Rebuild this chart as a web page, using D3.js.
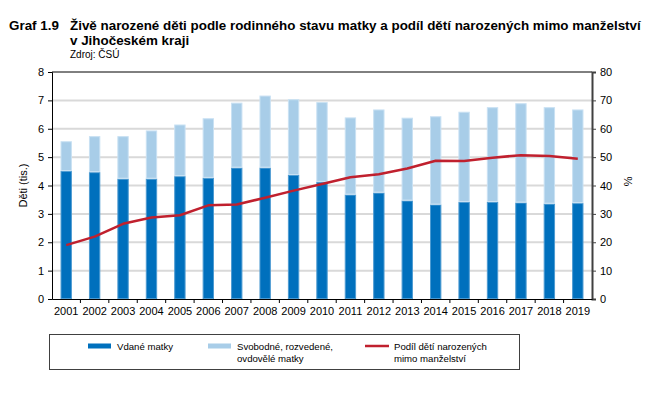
<!DOCTYPE html>
<html>
<head>
<meta charset="utf-8">
<script src="https://cdn.jsdelivr.net/npm/d3@7"></script>
<style>
  body { margin: 0; background: #fff; }
  text { font-family: "Liberation Sans", Arial, sans-serif; }
</style>
</head>
<body>
<div id="chart"></div>
<script>
// data
const years = ["2001","2002","2003","2004","2005","2006","2007","2008","2009","2010",
  "2011","2012","2013","2014","2015","2016","2017","2018","2019"];
// vdané matky (tis.)
const married = [4.51,4.47,4.24,4.24,4.33,4.27,4.63,4.63,4.37,4.13,
  3.68,3.75,3.47,3.33,3.42,3.42,3.40,3.36,3.38];
// svobodné, rozvedené, ovdovělé matky (tis.)
const unmarried = [1.05,1.27,1.50,1.70,1.82,2.10,2.29,2.54,2.67,2.81,
  2.72,2.93,2.92,3.11,3.18,3.34,3.50,3.40,3.30];
// podíl dětí narozených mimo manželství (%)
const share = [19.0,22.0,26.5,28.7,29.5,33.0,33.3,35.7,38.2,40.5,
  42.9,44.0,46.0,48.7,48.6,49.8,50.7,50.4,49.4];
const leftTicks = [0,1,2,3,4,5,6,7,8];
const rightTicks = [0,10,20,30,40,50,60,70,80];

const W = 655, H = 393;
const m = {left: 52, right: 63, top: 72, bottom: 94};
const iw = W - m.left - m.right, ih = H - m.top - m.bottom;

const svg = d3.select("#chart").append("svg")
  .attr("width", W).attr("height", H);

// nadpis
svg.append("text").attr("x", 9).attr("y", 30)
  .attr("font-size", "13.4px").attr("font-weight", "bold").attr("fill", "#000")
  .text("Graf 1.9");
svg.append("text").attr("x", 70).attr("y", 30)
  .attr("font-size", "13.4px").attr("font-weight", "bold").attr("fill", "#000")
  .text("Živě narozené děti podle rodinného stavu matky a podíl dětí narozených mimo manželství");
svg.append("text").attr("x", 70).attr("y", 45)
  .attr("font-size", "13.4px").attr("font-weight", "bold").attr("fill", "#000")
  .text("v Jihočeském kraji");
svg.append("text").attr("x", 70).attr("y", 58)
  .attr("font-size", "10px").attr("fill", "#000")
  .text("Zdroj: ČSÚ");

const g = svg.append("g").attr("transform", `translate(${m.left},${m.top})`);

const x = d3.scaleBand().domain(years).range([0, iw]).paddingInner(0.6).paddingOuter(0.3);
const y = d3.scaleLinear().domain([0, 8]).range([ih, 0]);
const y2 = d3.scaleLinear().domain([0, 80]).range([ih, 0]);

// mřížka
g.append("g").selectAll("line")
  .data(leftTicks.filter(d => d > 0 && d < 8))
  .enter().append("line")
  .attr("x1", 0).attr("x2", iw)
  .attr("y1", d => y(d)).attr("y2", d => y(d))
  .attr("stroke", "#d9d9d9").attr("stroke-width", 2);

// horní linka
g.append("line").attr("x1", 0).attr("x2", iw).attr("y1", 0).attr("y2", 0)
  .attr("stroke", "#000").attr("stroke-width", 1);

// sloupce
const rows = years.map((yr, i) => ({year: yr, a: married[i], b: unmarried[i]}));
const stack = d3.stack().keys(["a", "b"])(rows);
const fills = ["#0070bd", "#a8cde8"];
const strokes = ["#4d9bd2", "#c9e1f3"];
g.append("g").selectAll("g")
  .data(stack).enter().append("g")
  .attr("fill", (d, i) => fills[i])
  .attr("stroke", (d, i) => strokes[i])
  .attr("stroke-width", 1)
  .selectAll("rect")
  .data(d => d).enter().append("rect")
  .attr("x", d => x(d.data.year) + 0.5)
  .attr("width", x.bandwidth() - 1)
  .attr("y", d => y(d[1]) + 0.5)
  .attr("height", d => Math.max(0, y(d[0]) - y(d[1]) - 1));

// linka podílu
const line = d3.line()
  .x((d, i) => x(years[i]) + x.bandwidth() / 2)
  .y(d => y2(d));
g.append("path").datum(share)
  .attr("d", line)
  .attr("fill", "none")
  .attr("stroke", "#c0202e")
  .attr("stroke-width", 2.5)
  .attr("stroke-linejoin", "round");

// osy
const axL = g.append("g")
  .call(d3.axisLeft(y).tickValues(leftTicks).tickSize(4).tickPadding(4));
axL.select(".domain").attr("stroke", "#000");
axL.selectAll(".tick line").attr("stroke", "#000");
axL.selectAll("text").attr("font-size", "11px").attr("fill", "#000");

const axR = g.append("g").attr("transform", `translate(${iw},0)`)
  .call(d3.axisRight(y2).tickValues(rightTicks).tickSize(4).tickPadding(4));
axR.select(".domain").attr("stroke", "#404040").attr("stroke-width", 2);
axR.selectAll(".tick line").attr("stroke", "#404040");
axR.selectAll("text").attr("font-size", "11px").attr("fill", "#000");

const axB = g.append("g").attr("transform", `translate(0,${ih})`)
  .call(d3.axisBottom(x).tickSize(0).tickPadding(8));
axB.select(".domain").attr("stroke", "#000");
axB.selectAll("text").attr("font-size", "11px").attr("fill", "#000");
// značky mezi kategoriemi
axB.append("g").selectAll("line")
  .data(years.slice(1)).enter().append("line")
  .attr("x1", d => x(d) - x.step() * x.paddingInner() / 2)
  .attr("x2", d => x(d) - x.step() * x.paddingInner() / 2)
  .attr("y1", 0).attr("y2", 4)
  .attr("stroke", "#000");

// popisky os
svg.append("text")
  .attr("transform", `translate(27,${m.top + ih / 2}) rotate(-90)`)
  .attr("text-anchor", "middle").attr("font-size", "11px").attr("fill", "#000")
  .text("Děti (tis.)");
svg.append("text")
  .attr("transform", `translate(624,${m.top + ih / 2 - 4}) rotate(90)`)
  .attr("text-anchor", "middle").attr("font-size", "11px").attr("fill", "#000")
  .text("%");

// legenda
const lg = svg.append("g").attr("transform", "translate(49,334)");
lg.append("rect").attr("x", 0.5).attr("y", 0.5).attr("width", 470).attr("height", 35)
  .attr("fill", "#fff").attr("stroke", "#404040").attr("stroke-width", 1);
const items = [
  {x: 39, lines: ["Vdané matky"], type: "bar", color: fills[0]},
  {x: 159, lines: ["Svobodné, rozvedené,", "ovdovělé matky"], type: "bar", color: fills[1]},
  {x: 316, lines: ["Podíl dětí narozených", "mimo manželství"], type: "line", color: "#c0202e"}
];
items.forEach(it => {
  if (it.type === "bar") {
    lg.append("rect").attr("x", it.x).attr("y", 9.5).attr("width", 23).attr("height", 5)
      .attr("fill", it.color);
  } else {
    lg.append("line").attr("x1", it.x).attr("x2", it.x + 24).attr("y1", 12).attr("y2", 12)
      .attr("stroke", it.color).attr("stroke-width", 2.5);
  }
  it.lines.forEach((t, j) => {
    lg.append("text").attr("x", it.x + 29).attr("y", 16 + j * 12)
      .attr("font-size", "9.6px").attr("fill", "#000").text(t);
  });
});
</script>
</body>
</html>
